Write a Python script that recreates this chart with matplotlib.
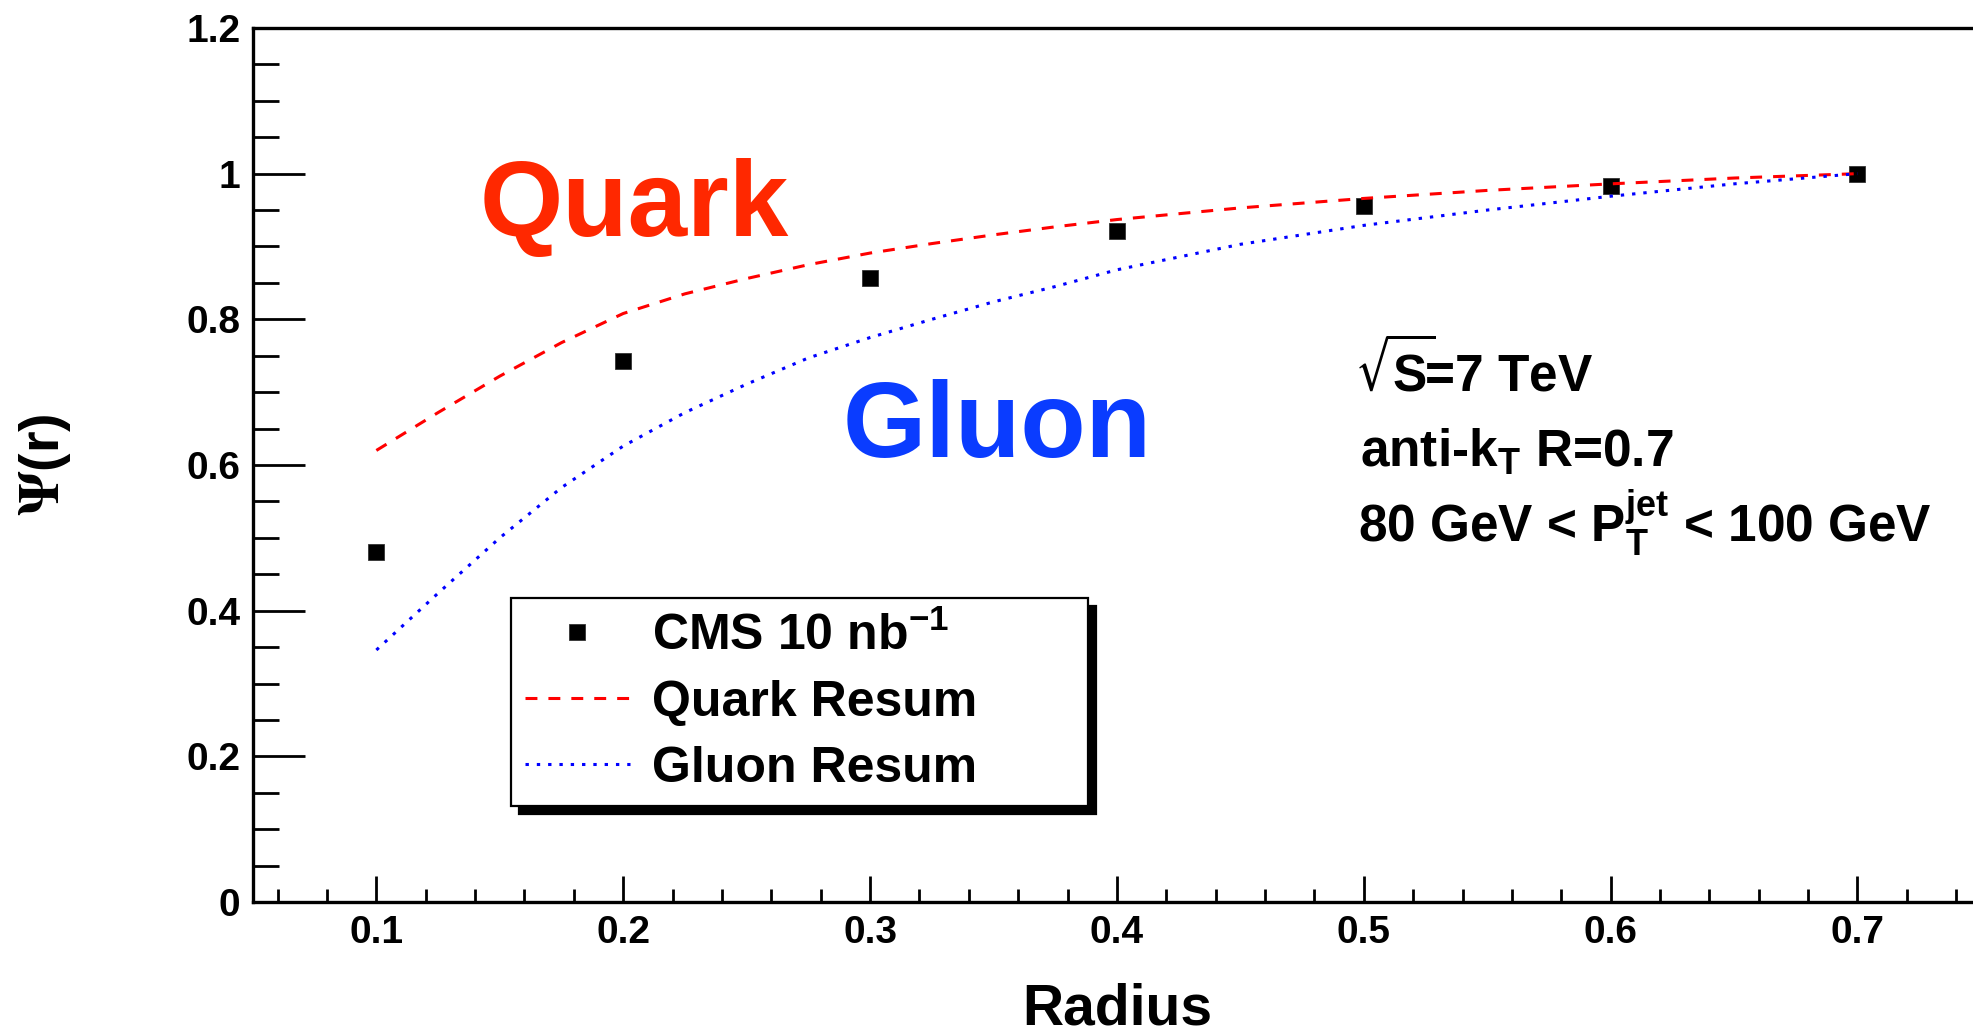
import matplotlib
matplotlib.use('Agg')
import matplotlib.pyplot as plt
from matplotlib.ticker import MultipleLocator

# CMS data points
radius = [0.1, 0.2, 0.3, 0.4, 0.5, 0.6, 0.7]
psi_cms = [0.481, 0.743, 0.857, 0.921, 0.955, 0.983, 1.0]

# resummation curves
r_theory = [0.100, 0.125, 0.150, 0.175, 0.200, 0.225, 0.250, 0.275, 0.300, 0.325,
            0.350, 0.375, 0.400, 0.450, 0.500, 0.550, 0.600, 0.650, 0.700]
psi_quark = [0.620, 0.672, 0.722, 0.768, 0.808, 0.835, 0.856, 0.875, 0.891, 0.904,
             0.916, 0.927, 0.937, 0.953, 0.966, 0.977, 0.986, 0.994, 1.000]
psi_gluon = [0.346, 0.424, 0.500, 0.569, 0.626, 0.672, 0.711, 0.747, 0.775, 0.800,
             0.824, 0.845, 0.868, 0.903, 0.929, 0.950, 0.969, 0.986, 1.000]

x_ticks = [0.1, 0.2, 0.3, 0.4, 0.5, 0.6, 0.7]
x_tick_labels = ['0.1', '0.2', '0.3', '0.4', '0.5', '0.6', '0.7']
y_ticks = [0, 0.2, 0.4, 0.6, 0.8, 1.0, 1.2]
y_tick_labels = ['0', '0.2', '0.4', '0.6', '0.8', '1', '1.2']

plt.rcParams['font.family'] = ['Liberation Sans', 'DejaVu Sans']
plt.rcParams['font.weight'] = 'bold'
plt.rcParams['axes.labelweight'] = 'bold'

fig = plt.figure(figsize=(19.73, 10.33), dpi=100)
ax = fig.add_axes([0.1282, 0.1268, 0.8758, 0.8461])

h_cms, = ax.plot(radius, psi_cms, 's', color='black', ms=11, mec='#333333', mew=0.6,
                 label=r'CMS 10 $\mathregular{nb}^\mathregular{-1}$')
h_q, = ax.plot(r_theory, psi_quark, color='red', lw=2.2, ls=(0, (3.9, 3.6)), label='Quark Resum')
h_g, = ax.plot(r_theory, psi_gluon, color='blue', lw=2.2, ls=(0, (1.1, 2.6)), label='Gluon Resum')

ax.set_xlim(0.05, 0.75)
ax.set_ylim(0, 1.2)
ax.set_xticks(x_ticks)
ax.set_xticklabels(x_tick_labels)
ax.set_yticks(y_ticks)
ax.set_yticklabels(y_tick_labels)
ax.xaxis.set_minor_locator(MultipleLocator(0.02))
ax.yaxis.set_minor_locator(MultipleLocator(0.05))
ax.tick_params(which='both', direction='in', top=False, right=False, width=2,
               labelsize=28, pad=9)
ax.tick_params(axis='y', which='major', length=37.4)
ax.tick_params(axis='y', which='minor', length=18.7)
ax.tick_params(axis='x', which='major', length=18.7)
ax.tick_params(axis='x', which='minor', length=9.4)
for s in ax.spines.values():
    s.set_linewidth(2.4)

ax.set_xlabel('Radius', fontsize=41, fontweight='bold')
ax.xaxis.set_label_coords(0.5, -0.092)
ax.set_ylabel(r'$\Psi$(r)', fontsize=40, fontweight='bold', math_fontfamily='stix')
ax.yaxis.set_label_coords(-0.104, 0.5)

ax.text(0.142, 0.914, 'Quark', fontsize=77, color='#ff2800', fontweight='bold', va='baseline')
ax.text(0.289, 0.611, 'Gluon', fontsize=77, color='#0a3cff', fontweight='bold', va='baseline')

ax.text(0.4965, 0.701, r'$\sqrt{\mathregular{S}}\!$=7 TeV', fontsize=37, va='baseline')
ax.text(0.4985, 0.598, r'anti-$\mathregular{k}_\mathregular{T}$ R=0.7', fontsize=37, va='baseline')
ax.text(0.4975, 0.495, r'80 GeV < $\mathregular{P}_\mathregular{T}^\mathregular{jet}$ < 100 GeV',
        fontsize=37, va='baseline')

leg = ax.legend(handles=[h_cms, h_q, h_g], loc='upper left',
                bbox_to_anchor=(0.2588, 0.2274, 0.2924, 0.1934), bbox_transform=fig.transFigure,
                mode='expand', borderaxespad=0, fontsize=36, numpoints=1,
                handlelength=2.1, handletextpad=0.44, borderpad=0.28, labelspacing=0.4,
                fancybox=False, edgecolor='black', framealpha=1,
                shadow={'color': 'black', 'alpha': 1, 'ox': 5.8, 'oy': -5.8})
leg.get_frame().set_linewidth(1.6)

fig.savefig('out.png', dpi=100)
